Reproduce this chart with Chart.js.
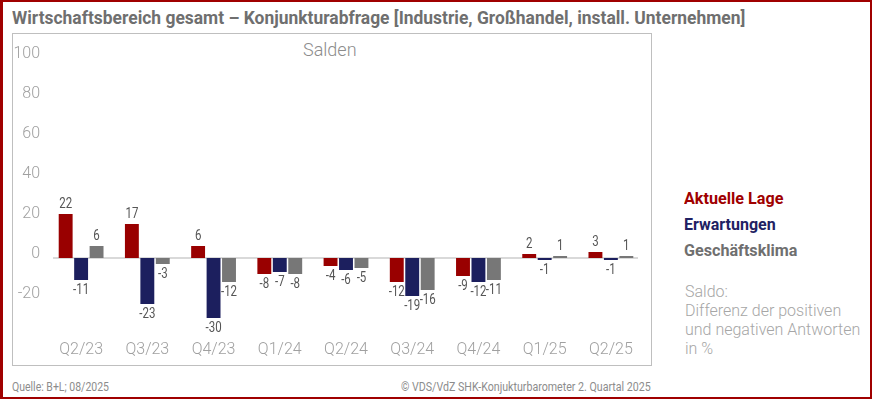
<!DOCTYPE html>
<html>
<head>
<meta charset="utf-8">
<script src="https://cdn.jsdelivr.net/npm/chart.js@4"></script>
<style>
  html, body { margin: 0; padding: 0; background: #fff; }
  #frame {
    position: relative; width: 872px; height: 399px; box-sizing: border-box;
    border: 2px solid #a00000; border-left-width: 3px; overflow: hidden;
    font-family: Roboto, "Noto Sans", sans-serif;
  }
  .t { position: absolute; white-space: nowrap; transform-origin: 0 0; line-height: 1; }
  #box { position: absolute; left: 9px; top: 31px; width: 638px; height: 331px; border: 1px solid #bfbfbf; }
  #chart { position: absolute; left: -3px; top: -2px; }
</style>
</head>
<body>
<div id="frame">
  <div id="box"></div>
  <div class="t fit" data-w="733" style="left:9px;top:6px;font-size:19px;font-weight:700;color:#6f6f6f;">Wirtschaftsbereich gesamt – Konjunkturabfrage [Industrie, Großhandel, install. Unternehmen]</div>
  <div class="t" style="left:300px;top:39px;font-size:18px;font-weight:300;color:#8c8c8c;">Salden</div>
  <div class="t fit" data-w="99" style="left:681px;top:189px;font-size:16px;font-weight:700;color:#a00000;">Aktuelle Lage</div>
  <div class="t fit" data-w="92" style="left:681px;top:215px;font-size:16px;font-weight:700;color:#1f2163;">Erwartungen</div>
  <div class="t fit" data-w="113" style="left:681px;top:241px;font-size:16px;font-weight:700;color:#6f6f6f;">Geschäftsklima</div>
  <div class="t" style="left:682px;top:280px;font-size:16px;font-weight:300;color:#a6a6a6;line-height:19px;">Saldo:<br>Differenz der positiven<br>und negativen Antworten<br>in %</div>
  <div class="t fit" data-w="97" style="left:9px;top:379px;font-size:12px;color:#8c8c8c;">Quelle: B+L; 08/2025</div>
  <div class="t fit" data-w="250" style="left:398px;top:379px;font-size:12px;color:#8c8c8c;">© VDS/VdZ SHK-Konjukturbarometer 2. Quartal 2025</div>
  <canvas id="chart" width="872" height="399"></canvas>
</div>
<script>
// Werte
var quartale = ['Q2/23', 'Q3/23', 'Q4/23', 'Q1/24', 'Q2/24', 'Q3/24', 'Q4/24', 'Q1/25', 'Q2/25'];
var aktuelleLage = [22, 17, 6, -8, -4, -12, -9, 2, 3];
var erwartungen = [-11, -23, -30, -7, -6, -19, -12, -1, -1];
var geschaeftsklima = [6, -3, -12, -8, -5, -16, -11, 1, 1];
var yTicks = [100, 80, 60, 40, 20, 0, -20];

// schmale Schrift nachbilden (kein Roboto Condensed vorhanden)
document.querySelectorAll('.fit').forEach(function (el) {
  var w = el.offsetWidth;
  el.style.transform = 'scaleX(' + (el.dataset.w / w) + ')';
});

var nullLinie = {
  id: 'nullLinie',
  beforeDatasetsDraw: function (chart) {
    var c = chart.ctx, a = chart.chartArea, y = chart.scales.y.getPixelForValue(0);
    c.save();
    c.strokeStyle = '#d9d9d9';
    c.lineWidth = 2;
    c.beginPath();
    c.moveTo(a.left + 5, y);
    c.lineTo(a.right - 6, y);
    c.stroke();
    c.restore();
  }
};

var werte = {
  id: 'werte',
  afterDatasetsDraw: function (chart) {
    var c = chart.ctx;
    c.save();
    c.font = '14px Roboto';
    c.fillStyle = '#555555';
    c.textAlign = 'center';
    chart.data.datasets.forEach(function (ds, i) {
      chart.getDatasetMeta(i).data.forEach(function (bar, j) {
        var v = ds.data[j];
        c.save();
        c.translate(bar.x, v >= 0 ? bar.y - 3 : bar.y + 3);
        c.scale(0.82, 1);
        c.textBaseline = v >= 0 ? 'bottom' : 'top';
        c.fillText(String(v), 0, 0);
        c.restore();
      });
    });
    c.restore();
  }
};

new Chart(document.getElementById('chart'), {
  type: 'bar',
  data: {
    labels: quartale,
    datasets: [
      { label: 'Aktuelle Lage', data: aktuelleLage, backgroundColor: '#990000' },
      { label: 'Erwartungen', data: erwartungen, backgroundColor: '#1c1f5e' },
      { label: 'Geschäftsklima', data: geschaeftsklima, backgroundColor: '#777777' }
    ]
  },
  options: {
    responsive: false,
    animation: false,
    layout: { padding: { left: 12, right: 228, top: 58, bottom: 0 } },
    datasets: { bar: { barPercentage: 0.9, categoryPercentage: 0.7 } },
    plugins: { legend: { display: false }, tooltip: { enabled: false } },
    scales: {
      x: {
        grid: { display: false, drawTicks: false },
        border: { display: false },
        ticks: { color: '#a0a0a0', font: { family: 'Roboto', size: 16, weight: 300 }, padding: 2 },
        afterFit: function (s) { s.height = 61; }
      },
      y: {
        min: -40,
        max: 100,
        grid: { display: false, drawTicks: false },
        border: { display: false },
        afterBuildTicks: function (s) { s.ticks = yTicks.map(function (v) { return { value: v }; }); },
        ticks: { color: '#a0a0a0', font: { family: 'Roboto', size: 16, weight: 300 }, padding: 8, labelOffset: -4 },
        afterFit: function (s) { s.width = 36; }
      }
    }
  },
  plugins: [nullLinie, werte]
});
</script>
</body>
</html>
